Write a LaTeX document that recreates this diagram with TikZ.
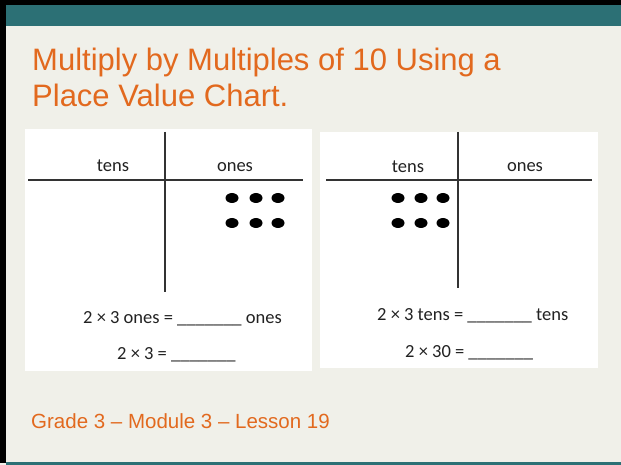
\documentclass[tikz,border=0pt]{standalone}
\usepackage{fontspec}
\setmainfont{Liberation Sans}
\newfontfamily\chartfont{Carlito}
\definecolor{bgcream}{HTML}{F0F0E9}
\definecolor{teal}{HTML}{2C7075}
\definecolor{titleorange}{HTML}{E2691E}
\definecolor{inkgray}{HTML}{222222}
\definecolor{linegray}{HTML}{333333}
\tikzset{
  titletext/.style={anchor=base west, inner sep=0pt, text=titleorange, font=\fontsize{31}{31}\selectfont},
  foottext/.style={anchor=base west, inner sep=0pt, text=titleorange, font=\fontsize{20.5}{20.5}\selectfont},
  charttext/.style={anchor=base west, inner sep=0pt, text=inkgray, font=\chartfont\fontsize{18.5}{18.5}\selectfont},
  headtext/.style={anchor=base, inner sep=0pt, text=inkgray, font=\chartfont\fontsize{18.5}{18.5}\selectfont},
  panel/.style={fill=white, draw=none},
  ruleline/.style={draw=linegray, line width=2pt},
  counter/.style={fill=black, draw=none}
}
\begin{document}
\begin{tikzpicture}[x=1pt,y=-1pt]
\useasboundingbox (0,0) rectangle (621,465);
% background and frame
\fill[bgcream] (0,0) rectangle (621,465);
\fill[black] (0,0) rectangle (621,5);
\fill[black] (0,0) rectangle (6,463);
\fill[teal] (6,5) rectangle (621,26);
\fill[teal] (6,462) rectangle (621,465);
% title
\node[titletext] (t1) at (32,71) {Multiply by Multiples of 10 Using a};
\node[titletext] (t2) at (32,107) {Place Value Chart.};
% left panel
\fill[panel] (25,129) rectangle (312,371);
\coordinate (lvtop) at (165,132);
\coordinate (lvbot) at (165,292);
\coordinate (lhl) at (28,180);
\coordinate (lhr) at (303,180);
\draw[ruleline] (lvtop) -- (lvbot);
\draw[ruleline] (lhl) -- (lhr);
\node[headtext] (ltens) at (113,172) {tens};
\node[headtext] (lones) at (235,172) {ones};
\foreach \cx in {232,256,278}{
  \foreach \cy in {198,223}{
    \fill[counter] (\cx,\cy) ellipse [x radius=6.5, y radius=5];
  }
}
\node[charttext] (leq1) at (83,323) {2 × 3 ones = \_\_\_\_\_\_\_ ones};
\node[charttext] (leq2) at (117,359) {2 × 3 = \_\_\_\_\_\_\_};
% right panel
\fill[panel] (320,132) rectangle (598,368);
\coordinate (rvtop) at (458,132);
\coordinate (rvbot) at (458,288);
\coordinate (rhl) at (326,180);
\coordinate (rhr) at (592,180);
\draw[ruleline] (rvtop) -- (rvbot);
\draw[ruleline] (rhl) -- (rhr);
\node[headtext] (rtens) at (408,173) {tens};
\node[headtext] (rones) at (525,172) {ones};
\foreach \cx in {398,421,443}{
  \foreach \cy in {198,223}{
    \fill[counter] (\cx,\cy) ellipse [x radius=6.5, y radius=5];
  }
}
\node[charttext] (req1) at (377,320) {2 × 3 tens = \_\_\_\_\_\_\_ tens};
\node[charttext] (req2) at (405,357) {2 × 30 = \_\_\_\_\_\_\_};
% footer
\node[foottext] (foot) at (31,428) {Grade 3 – Module 3 – Lesson 19};
\end{tikzpicture}
\end{document}
